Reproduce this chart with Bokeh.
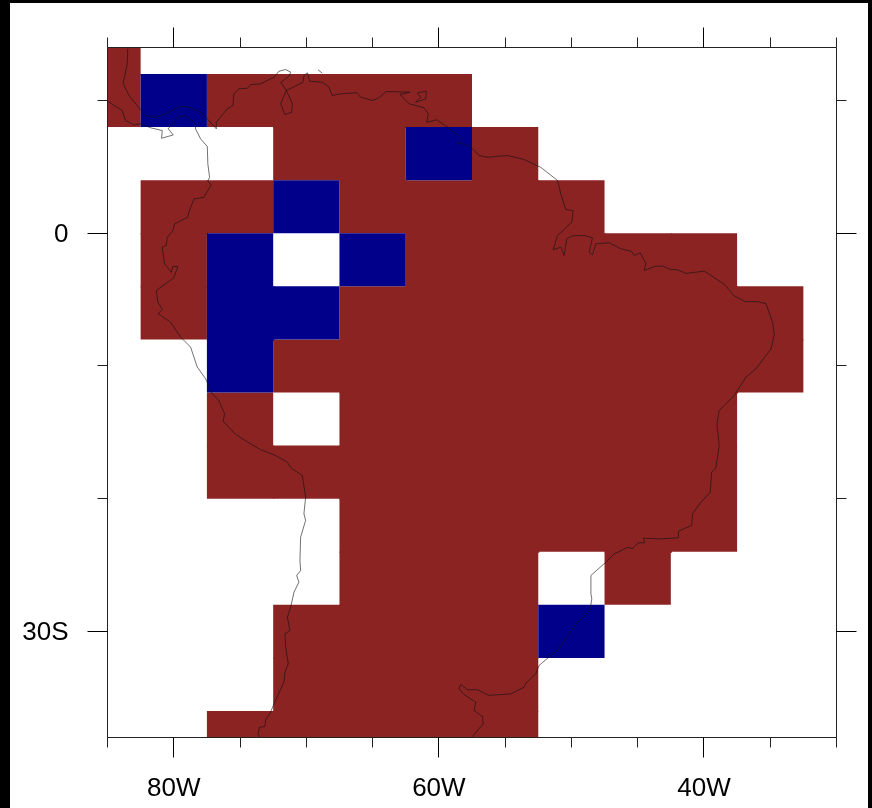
from bokeh.embed import file_html
from bokeh.resources import INLINE
from bokeh.plotting import figure
from bokeh.models import FixedTicker, LinearAxis, Range1d

# grid cell centres and state (1 = red, -1 = blue, 0 = missing)
cell_lons = [-85, -80, -75, -70, -65, -60, -55, -50, -45, -40, -35]
cell_lats = [14, 10, 6, 2, -2, -6, -10, -14, -18, -22, -26, -30, -34, -38]
row_14 = [1, 0, 0, 0, 0, 0, 0, 0, 0, 0, 0]
row_10 = [1, -1, 1, 1, 1, 1, 0, 0, 0, 0, 0]
row_6 = [0, 0, 0, 1, 1, -1, 1, 0, 0, 0, 0]
row_2 = [0, 1, 1, -1, 1, 1, 1, 1, 0, 0, 0]
row_m2 = [0, 1, -1, 0, -1, 1, 1, 1, 1, 1, 0]
row_m6 = [0, 1, -1, -1, 1, 1, 1, 1, 1, 1, 1]
row_m10 = [0, 0, -1, 1, 1, 1, 1, 1, 1, 1, 1]
row_m14 = [0, 0, 1, 0, 1, 1, 1, 1, 1, 1, 0]
row_m18 = [0, 0, 1, 1, 1, 1, 1, 1, 1, 1, 0]
row_m22 = [0, 0, 0, 0, 1, 1, 1, 1, 1, 1, 0]
row_m26 = [0, 0, 0, 0, 1, 1, 1, 0, 1, 0, 0]
row_m30 = [0, 0, 0, 1, 1, 1, 1, -1, 0, 0, 0]
row_m34 = [0, 0, 0, 1, 1, 1, 1, 0, 0, 0, 0]
row_m38 = [0, 0, 1, 1, 1, 1, 1, 0, 0, 0, 0]
rows = [row_14, row_10, row_6, row_2, row_m2, row_m6, row_m10, row_m14,
        row_m18, row_m22, row_m26, row_m30, row_m34, row_m38]

# coastlines, (lon, lat)
coast_east = [
    (-83.47, 13.90), (-83.51, 12.77), (-83.82, 11.31), (-83.39, 10.38), (-82.56, 9.38), (-82.13, 8.88),
    (-81.38, 8.70), (-80.37, 9.12), (-79.54, 9.57), (-78.86, 9.50), (-77.98, 9.12), (-77.35, 8.50),
    (-76.79, 7.87), (-76.79, 8.37), (-75.96, 9.38), (-75.54, 9.63), (-75.46, 10.51), (-75.09, 10.89),
    (-74.45, 10.93), (-74.20, 11.21), (-73.45, 11.26), (-72.44, 11.76), (-72.07, 12.21), (-71.56, 12.34),
    (-71.18, 12.14), (-71.31, 11.84), (-71.92, 11.38), (-71.51, 10.76), (-71.94, 9.76), (-71.61, 8.95),
    (-71.11, 9.12), (-71.05, 9.76), (-71.51, 10.76), (-70.25, 11.38), (-70.18, 11.89), (-69.92, 12.09),
    (-69.75, 11.46), (-68.79, 11.38), (-68.29, 11.01), (-68.04, 10.38), (-67.41, 10.51), (-66.20, 10.59),
    (-65.90, 10.25), (-65.01, 10.01), (-64.52, 10.21), (-63.96, 10.68), (-62.18, 10.63), (-62.93, 10.46),
    (-62.25, 9.76), (-61.12, 9.46), (-60.79, 9.00), (-60.92, 8.37), (-60.16, 8.55), (-59.35, 8.00),
    (-58.60, 7.37), (-58.55, 6.79), (-57.97, 6.69), (-57.46, 6.37), (-56.97, 5.86), (-56.33, 5.73),
    (-54.82, 5.86), (-53.57, 5.56), (-52.31, 4.97), (-51.05, 3.98), (-50.80, 2.98), (-50.42, 1.79),
    (-49.87, 1.71), (-49.97, 0.83), (-51.05, -0.17), (-51.38, -1.25), (-50.80, -1.05), (-50.55, -1.67),
    (-50.35, -0.41), (-49.92, -0.19), (-49.04, -0.17), (-48.41, -0.34), (-48.66, -1.43), (-48.41, -1.62),
    (-48.16, -0.79), (-47.15, -0.72), (-46.27, -1.17), (-45.46, -1.37), (-45.26, -1.68), (-44.81, -1.47),
    (-44.38, -2.30), (-44.51, -2.80), (-43.63, -2.48), (-43.12, -2.48), (-42.49, -2.73), (-41.99, -2.75),
    (-41.36, -3.03), (-39.98, -2.85), (-38.47, -3.84), (-37.71, -4.72), (-36.88, -5.15), (-35.95, -5.15),
    (-35.32, -5.30), (-34.82, -6.73), (-34.69, -7.61), (-34.94, -8.71), (-36.08, -10.21), (-36.83, -10.84),
    (-37.71, -12.22), (-38.85, -13.36), (-39.02, -14.36), (-38.85, -16.00), (-39.10, -17.68), (-39.42, -18.01),
    (-39.53, -19.52), (-40.23, -20.27), (-40.86, -21.14), (-40.93, -22.02), (-41.91, -22.45), (-41.94, -22.95),
    (-43.25, -23.03), (-44.58, -22.98), (-44.46, -23.33), (-44.96, -23.33), (-45.39, -23.78), (-45.72, -23.66),
    (-46.77, -24.16), (-47.40, -24.79), (-48.53, -25.79), (-48.53, -27.17), (-48.46, -27.55), (-48.61, -28.43),
    (-49.54, -29.31), (-50.17, -30.18), (-50.93, -31.32), (-51.93, -32.14), (-52.44, -32.57), (-52.69, -33.20),
    (-53.44, -33.91), (-53.57, -34.21), (-54.57, -34.71), (-56.21, -34.83), (-57.09, -34.40), (-57.84, -34.40),
    (-58.35, -34.00), (-58.48, -34.33), (-58.10, -34.76), (-57.22, -35.34), (-57.34, -35.97), (-56.71, -36.42),
    (-56.66, -36.97), (-57.47, -37.93),
]
coast_trinidad = [(-61.62, 10.58), (-60.94, 10.70), (-60.99, 10.13), (-61.75, 9.88), (-61.37, 10.25), (-61.62, 10.58)]
coast_paraguana = [(-69.12, 12.32), (-68.79, 12.06)]
coast_west = [
    (-84.98, 9.95), (-83.89, 9.25), (-83.64, 8.50), (-83.01, 8.17), (-82.51, 8.25), (-81.75, 7.95),
    (-80.87, 7.74), (-80.92, 7.16), (-80.04, 7.41), (-80.42, 7.87), (-79.62, 8.80), (-79.11, 8.87),
    (-78.36, 8.25), (-78.36, 7.87), (-77.98, 7.12), (-77.47, 6.54), (-77.43, 5.24), (-77.30, 4.22),
    (-77.43, 3.92), (-77.17, 3.67), (-77.73, 2.71), (-78.48, 2.59), (-78.86, 1.58), (-78.94, 1.21),
    (-79.94, 0.71), (-80.07, 0.21), (-80.49, -0.30), (-80.57, -0.92), (-80.87, -1.05), (-80.70, -2.30),
    (-80.19, -2.94), (-80.07, -2.50), (-79.69, -2.50), (-79.99, -3.36), (-81.32, -4.31), (-81.20, -5.19),
    (-80.87, -5.74), (-81.17, -6.06), (-80.24, -6.70), (-79.49, -7.82), (-78.73, -8.58), (-78.23, -10.08),
    (-77.60, -10.96), (-77.10, -12.10), (-76.60, -12.60), (-76.17, -13.60), (-76.27, -14.16), (-75.34, -15.16),
    (-74.33, -15.79), (-73.45, -16.31), (-72.44, -16.69), (-71.43, -17.25), (-71.18, -17.67), (-70.30, -18.25),
    (-70.05, -19.89), (-70.18, -21.14), (-70.05, -21.64), (-70.43, -22.90), (-70.48, -24.66), (-70.43, -25.41),
    (-70.73, -25.79), (-70.56, -26.29), (-70.93, -27.05), (-71.18, -28.18), (-71.43, -28.94), (-71.24, -29.94),
    (-71.61, -30.19), (-71.56, -31.20), (-71.36, -32.45), (-71.61, -33.08), (-71.69, -33.83), (-72.44, -35.46),
    (-72.75, -36.22), (-73.07, -36.67), (-73.12, -37.17), (-73.52, -37.22), (-73.65, -37.72), (-73.52, -37.97),
]

x_major = [-80, -60, -40]
x_labels = {-80: "80W", -60: "60W", -40: "40W"}
x_minor = [-85, -75, -70, -65, -55, -50, -45, -35, -30]
y_major = [0, -30]
y_labels = {0: "0", -30: "30S"}
y_minor = [10, -10, -20]

RED = "#8B2323"
BLUE = "#00008B"
FONT = "Liberation Sans"

p = figure(
    width=858, height=805, output_backend="svg", toolbar_location=None,
    x_range=Range1d(-85, -30), y_range=Range1d(-38, 14),
    x_axis_type=None, y_axis_type=None,
    min_border_left=97, min_border_right=32, min_border_top=44, min_border_bottom=71,
    outline_line_color=None, background_fill_color="white", border_fill_color="white",
    styles={"position": "fixed", "left": "10px", "top": "3px", "box-shadow": "0 0 0 24px black"},
)
p.grid.visible = False

# neighbouring cells of one state overlap slightly, so that no seam shows between them
OVERLAP = 0.08
for state, colour in ((1, RED), (-1, BLUE)):
    lefts, rights, tops, bottoms = [], [], [], []
    for i, (lat, row) in enumerate(zip(cell_lats, rows)):
        for j, (lon, v) in enumerate(zip(cell_lons, row)):
            if v != state:
                continue
            right_same = j + 1 < len(row) and row[j + 1] == state
            below_same = i + 1 < len(rows) and rows[i + 1][j] == state
            lefts.append(lon - 2.5)
            rights.append(lon + 2.5 + (OVERLAP if right_same else 0))
            tops.append(lat + 2)
            bottoms.append(lat - 2 - (OVERLAP if below_same else 0))
    p.quad(left=lefts, right=rights, top=tops, bottom=bottoms, fill_color=colour, line_color=None)

for seg in (coast_east, coast_trinidad, coast_paraguana, coast_west):
    p.line([c[0] for c in seg], [c[1] for c in seg], line_color="#111111", line_width=0.7, line_alpha=0.85)


def style(axis, major, labels, minor, show, standoff):
    axis.ticker = FixedTicker(ticks=major, minor_ticks=minor)
    axis.major_tick_in = 0
    axis.major_tick_out = 20
    axis.minor_tick_in = 0
    axis.minor_tick_out = 10
    axis.major_tick_line_color = "black"
    axis.minor_tick_line_color = "#222222"
    axis.axis_line_color = "#222222"
    axis.major_tick_line_width = 1
    axis.minor_tick_line_width = 1
    axis.axis_line_width = 1
    if show:
        axis.major_label_overrides = labels
        axis.major_label_text_font = FONT
        axis.major_label_text_font_size = "26px"
        axis.major_label_text_color = "black"
        axis.major_label_standoff = standoff
        axis.major_label_orientation = "horizontal"
    else:
        axis.major_label_text_font_size = "0px"
        axis.major_label_text_color = None


for side, kind in (("below", "x"), ("above", "x"), ("left", "y"), ("right", "y")):
    ax = LinearAxis()
    show = side in ("below", "left")
    if kind == "x":
        style(ax, x_major, x_labels, x_minor, show, 14)
    else:
        style(ax, y_major, y_labels, y_minor, show, 19)
    p.add_layout(ax, side)

open("out.html", "w").write(file_html(p, INLINE))
